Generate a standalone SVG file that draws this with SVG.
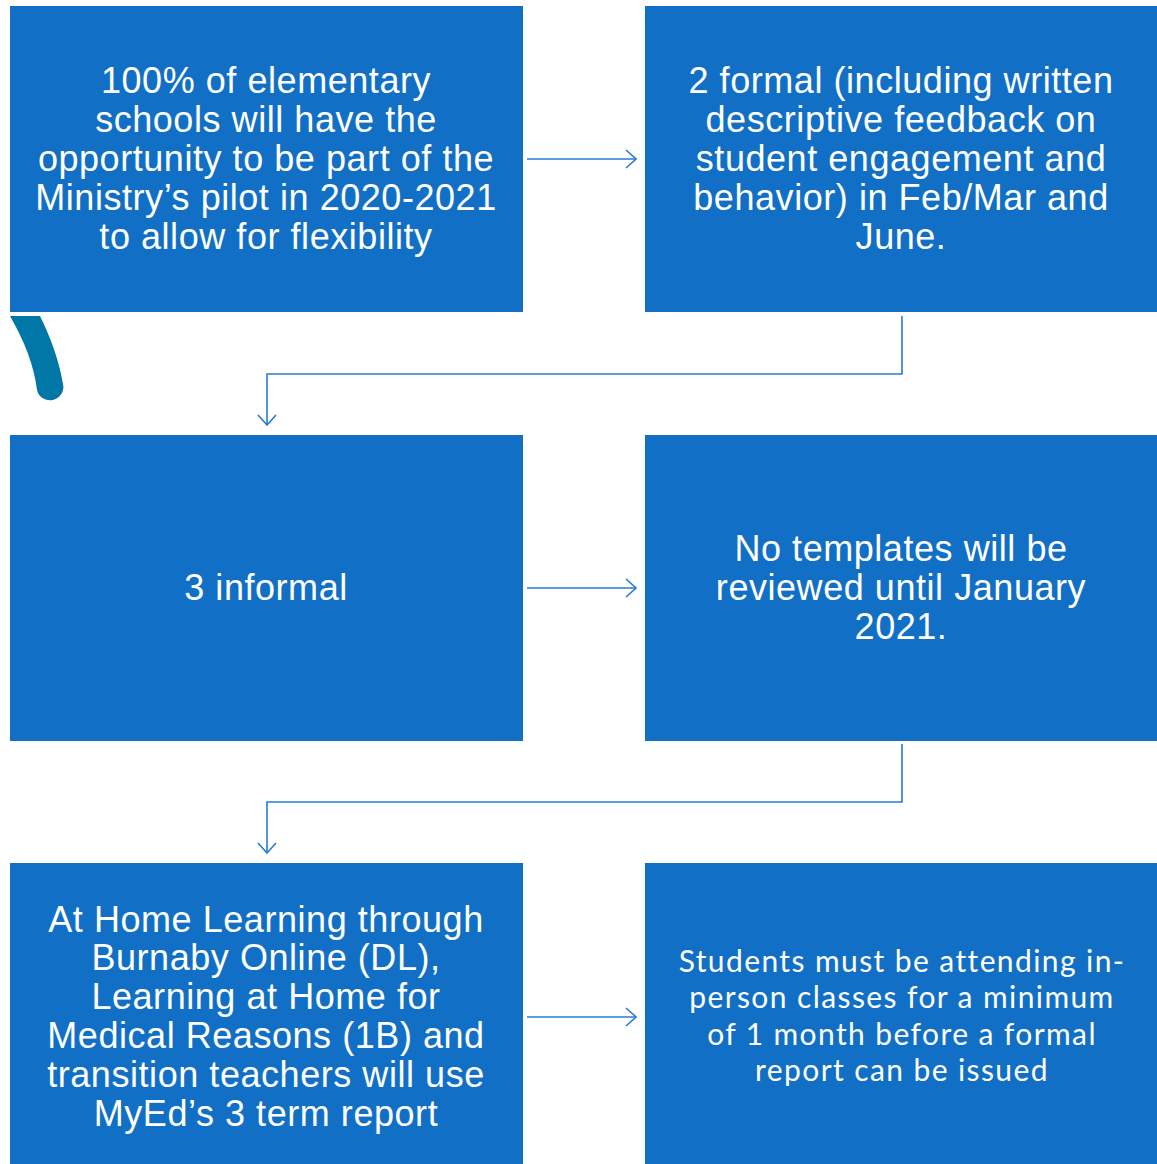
<svg xmlns="http://www.w3.org/2000/svg" width="1157" height="1164" viewBox="0 0 1157 1164">
<style>
.box{fill:#1170c6}
.t{font-family:"Liberation Sans",Arial,sans-serif;font-size:36px;letter-spacing:0.55px;fill:#fff;text-anchor:middle}
.g{font-family:Lato,"Liberation Sans",sans-serif;font-size:30px;fill:#fff;text-anchor:middle;letter-spacing:1.4px}
.c{fill:none;stroke:#2a7ad4;stroke-width:1.6}
</style>
<defs>
<marker id="ah" viewBox="0 0 12 20" refX="11" refY="10" markerWidth="12" markerHeight="20" markerUnits="userSpaceOnUse" orient="auto">
<path d="M1 1 L11 10 L1 19" fill="none" stroke="#2a7ad4" stroke-width="1.6"/>
</marker>
</defs>
<rect width="1157" height="1164" fill="#fff"/>
<path d="M10 316 L40 316 C50 336 59 360 63 384 A13 13 0 0 1 37 390 C34 366 25 342 10 316 Z" fill="#0077a7"/>
<g id="n1"><rect class="box" x="10" y="6" width="513" height="306"/>
<text class="t"><tspan x="266" y="93">100% of elementary</tspan><tspan x="266" y="132">schools will have the</tspan><tspan x="266" y="171">opportunity to be part of the</tspan><tspan x="266" y="210">Ministry’s pilot in 2020-2021</tspan><tspan x="266" y="249">to allow for flexibility</tspan></text></g>
<g id="n2"><rect class="box" x="645" y="6" width="512" height="306"/>
<text class="t"><tspan x="901" y="93">2 formal (including written</tspan><tspan x="901" y="132">descriptive feedback on</tspan><tspan x="901" y="171">student engagement and</tspan><tspan x="901" y="210">behavior) in Feb/Mar and</tspan><tspan x="901" y="249">June.</tspan></text></g>
<g id="n3"><rect class="box" x="10" y="435" width="513" height="306"/>
<text class="t" x="266" y="600">3 informal</text></g>
<g id="n4"><rect class="box" x="645" y="435" width="512" height="306"/>
<text class="t"><tspan x="901" y="561">No templates will be</tspan><tspan x="901" y="600">reviewed until January</tspan><tspan x="901" y="639">2021.</tspan></text></g>
<g id="n5"><rect class="box" x="10" y="863" width="513" height="301"/>
<text class="t"><tspan x="266" y="932">At Home Learning through</tspan><tspan x="266" y="970">Burnaby Online (DL),</tspan><tspan x="266" y="1009">Learning at Home for</tspan><tspan x="266" y="1048">Medical Reasons (1B) and</tspan><tspan x="266" y="1087">transition teachers will use</tspan><tspan x="266" y="1126">MyEd’s 3 term report</tspan></text></g>
<g id="n6"><rect class="box" x="645" y="863" width="512" height="301"/>
<text class="g"><tspan x="902" y="972">Students must be attending in-</tspan><tspan x="902" y="1008">person classes for a minimum</tspan><tspan x="902" y="1045">of 1 month before a formal</tspan><tspan x="902" y="1081">report can be issued</tspan></text></g>
<g id="connectors">
<path class="c" d="M527 159 H636" marker-end="url(#ah)"/>
<path class="c" d="M902 316 V374 H267 V425" marker-end="url(#ah)"/>
<path class="c" d="M527 588 H636" marker-end="url(#ah)"/>
<path class="c" d="M902 744 V802 H267 V853" marker-end="url(#ah)"/>
<path class="c" d="M527 1017 H636" marker-end="url(#ah)"/>
</g>
</svg>
